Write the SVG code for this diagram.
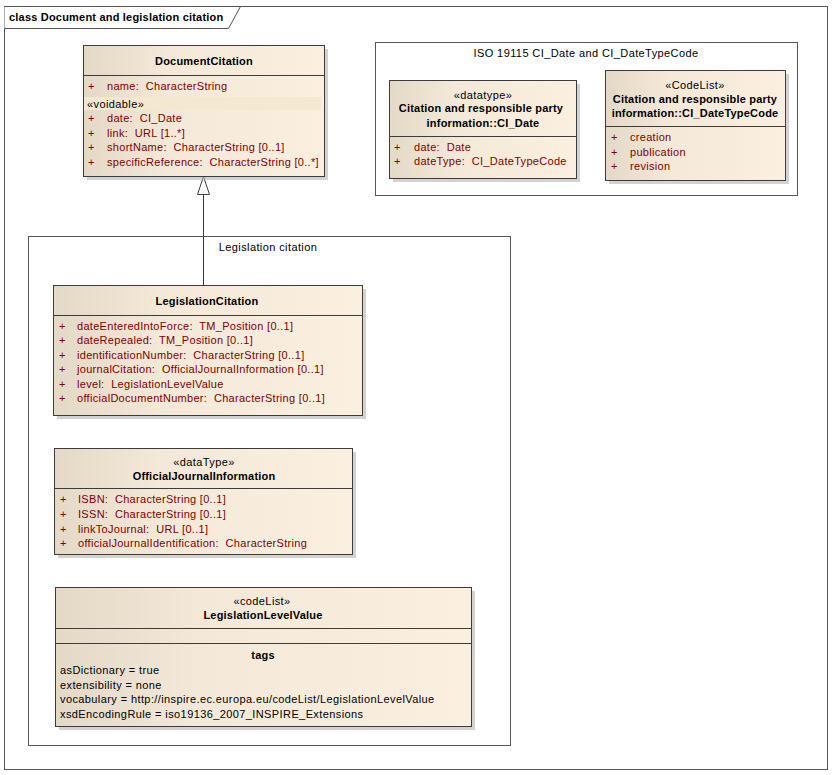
<svg xmlns="http://www.w3.org/2000/svg" width="835" height="775" viewBox="0 0 835 775">
<defs>
<linearGradient id="g" x1="0" y1="0" x2="1" y2="0">
<stop offset="0" stop-color="#e4d9c7"/>
<stop offset="0.35" stop-color="#f4e9d8"/>
<stop offset="1" stop-color="#fbf0e0"/>
</linearGradient>
<style>
text{font-family:"Liberation Sans",Arial,sans-serif;font-size:11px;fill:#000;letter-spacing:0.4px;white-space:pre}
.b{font-weight:bold;letter-spacing:0.2px}
.c{text-anchor:middle}
.a{fill:#800000;letter-spacing:0.3px}
.box{fill:url(#g);stroke:#3c3c3c;stroke-width:1}
.sh{fill:#b4b4b4;opacity:0.6}
.ln{stroke:#3c3c3c;stroke-width:1}
.pkg{fill:#fff;stroke:#555;stroke-width:1}
</style>
</defs>
<rect width="835" height="775" fill="#fff"/>
<g id="frame">
<rect x="4.5" y="6.5" width="823" height="763" fill="none" stroke="#555"/>
<path d="M4.5 6.5 H240.5 L228.5 28.5 H4.5" fill="#fff" stroke="#555"/>
<text x="9" y="21" class="b">class Document and legislation citation</text>
</g>
<g id="iso-package">
<rect class="pkg" x="375.5" y="42.5" width="422" height="153"/>
<text x="586" y="57" class="c">ISO 19115 CI_Date and CI_DateTypeCode</text>
</g>
<g id="legislation-package">
<rect class="pkg" x="28.5" y="236.5" width="482" height="509"/>
<text x="268" y="251" class="c">Legislation citation</text>
</g>
<g id="connectors">
<line x1="203.5" y1="194" x2="203.5" y2="285" class="ln"/>
<path d="M203.5 176.5 L197.5 194.5 H209.5 Z" fill="#fff" stroke="#3c3c3c"/>
</g>
<g id="DocumentCitation">
<rect class="sh" x="87" y="49" width="241" height="131"/>
<rect class="box" x="83.5" y="45.5" width="241" height="131"/>
<line x1="83.5" y1="75.5" x2="324.5" y2="75.5" class="ln"/>
<text x="204" y="65" class="b c">DocumentCitation</text>
<text x="88" y="90" class="a">+</text><text x="107" y="90" class="a">name:  CharacterString</text>
<rect x="84" y="97" width="237" height="13" fill="#f5e8d2"/>
<text x="87" y="108">«voidable»</text>
<text x="88" y="122" class="a">+</text><text x="107" y="122" class="a">date:  CI_Date</text>
<text x="88" y="137" class="a">+</text><text x="107" y="137" class="a">link:  URL [1..*]</text>
<text x="88" y="151" class="a">+</text><text x="107" y="151" class="a">shortName:  CharacterString [0..1]</text>
<text x="88" y="166" class="a">+</text><text x="107" y="166" class="a">specificReference:  CharacterString [0..*]</text>
</g>
<g id="CI_Date">
<rect class="sh" x="393" y="84" width="187" height="98"/>
<rect class="box" x="389.5" y="80.5" width="187" height="98"/>
<line x1="389.5" y1="136.5" x2="576.5" y2="136.5" class="ln"/>
<text x="483" y="99" class="c">«datatype»</text>
<text x="481" y="112" class="b c">Citation and responsible party</text>
<text x="483" y="127" class="b c">information::CI_Date</text>
<text x="394" y="151" class="a">+</text><text x="414" y="151" class="a">date:  Date</text>
<text x="394" y="165" class="a">+</text><text x="414" y="165" class="a">dateType:  CI_DateTypeCode</text>
</g>
<g id="CI_DateTypeCode">
<rect class="sh" x="609" y="74" width="180" height="110"/>
<rect class="box" x="605.5" y="70.5" width="180" height="110"/>
<line x1="605.5" y1="126.5" x2="785.5" y2="126.5" class="ln"/>
<text x="695" y="89" class="c">«CodeList»</text>
<text x="695" y="103" class="b c">Citation and responsible party</text>
<text x="695" y="117" class="b c">information::CI_DateTypeCode</text>
<text x="611" y="141" class="a">+</text><text x="630" y="141" class="a">creation</text>
<text x="611" y="156" class="a">+</text><text x="630" y="156" class="a">publication</text>
<text x="611" y="170" class="a">+</text><text x="630" y="170" class="a">revision</text>
</g>
<g id="LegislationCitation">
<rect class="sh" x="57" y="289" width="309" height="130"/>
<rect class="box" x="53.5" y="285.5" width="309" height="130"/>
<line x1="53.5" y1="315.5" x2="362.5" y2="315.5" class="ln"/>
<text x="207" y="305" class="b c">LegislationCitation</text>
<text x="59" y="330" class="a">+</text><text x="77" y="330" class="a">dateEnteredIntoForce:  TM_Position [0..1]</text>
<text x="59" y="344" class="a">+</text><text x="77" y="344" class="a">dateRepealed:  TM_Position [0..1]</text>
<text x="59" y="359" class="a">+</text><text x="77" y="359" class="a">identificationNumber:  CharacterString [0..1]</text>
<text x="59" y="373" class="a">+</text><text x="77" y="373" class="a">journalCitation:  OfficialJournalInformation [0..1]</text>
<text x="59" y="388" class="a">+</text><text x="77" y="388" class="a">level:  LegislationLevelValue</text>
<text x="59" y="402" class="a">+</text><text x="77" y="402" class="a">officialDocumentNumber:  CharacterString [0..1]</text>
</g>
<g id="OfficialJournalInformation">
<rect class="sh" x="58" y="452" width="298" height="106"/>
<rect class="box" x="54.5" y="448.5" width="298" height="106"/>
<line x1="54.5" y1="488.5" x2="352.5" y2="488.5" class="ln"/>
<text x="204" y="466" class="c">«dataType»</text>
<text x="204" y="480" class="b c">OfficialJournalInformation</text>
<text x="60" y="503" class="a">+</text><text x="78" y="503" class="a">ISBN:  CharacterString [0..1]</text>
<text x="60" y="518" class="a">+</text><text x="78" y="518" class="a">ISSN:  CharacterString [0..1]</text>
<text x="60" y="533" class="a">+</text><text x="78" y="533" class="a">linkToJournal:  URL [0..1]</text>
<text x="60" y="547" class="a">+</text><text x="78" y="547" class="a">officialJournalIdentification:  CharacterString</text>
</g>
<g id="LegislationLevelValue">
<rect class="sh" x="59" y="591" width="416" height="139"/>
<rect class="box" x="55.5" y="587.5" width="416" height="139"/>
<line x1="55.5" y1="628.5" x2="471.5" y2="628.5" class="ln"/>
<line x1="55.5" y1="643.5" x2="471.5" y2="643.5" class="ln"/>
<text x="262" y="605" class="c">«codeList»</text>
<text x="263" y="619" class="b c">LegislationLevelValue</text>
<text x="263" y="659" class="b c">tags</text>
<text x="60" y="674">asDictionary = true</text>
<text x="60" y="689">extensibility = none</text>
<text x="60" y="703">vocabulary = http://inspire.ec.europa.eu/codeList/LegislationLevelValue</text>
<text x="60" y="718">xsdEncodingRule = iso19136_2007_INSPIRE_Extensions</text>
</g>
</svg>
